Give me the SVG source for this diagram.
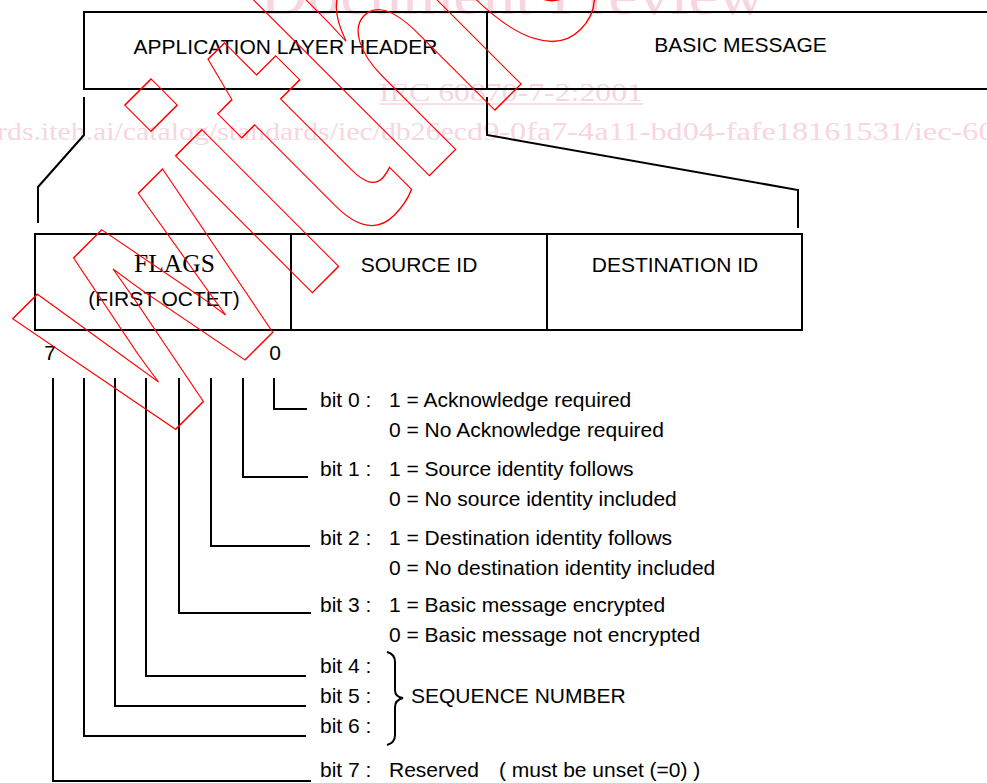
<svg xmlns="http://www.w3.org/2000/svg" width="987" height="783" viewBox="0 0 987 783">
<style>
.ln{fill:none;stroke:#000;stroke-width:2}
.t{font-family:"Liberation Sans",Arial,sans-serif;font-size:21px;fill:#000}
.c{text-anchor:middle}
.wm{font-family:"Liberation Serif","Times New Roman",serif;fill:#f7d6df}
.wd{font-family:"Liberation Sans",Arial,sans-serif;font-weight:bold;font-size:366px;fill:none;stroke:#ff0000;stroke-width:1.3}
</style>
<rect width="987" height="783" fill="#fff"/>
<g id="watermark-text">
<text class="wm" x="260" y="14" font-size="56" textLength="505" lengthAdjust="spacingAndGlyphs">Document Preview</text>
<text class="wm" x="379" y="101" font-size="26" textLength="264" lengthAdjust="spacingAndGlyphs">IEC 60870-7-2:2001</text>
<line x1="379" y1="104" x2="643" y2="104" stroke="#f7d6df" stroke-width="1.5"/>
<text class="wm" x="-79" y="140" font-size="26" textLength="546" lengthAdjust="spacingAndGlyphs">standards.iteh.ai/catalog/standards/iec/db26ec</text>
<text class="wm" x="467" y="140" font-size="26" textLength="705" lengthAdjust="spacingAndGlyphs">d9-0fa7-4a11-bd04-fafe18161531/iec-60870-7-2-2001</text>
</g>
<g id="header-row">
<rect class="ln" x="84" y="12" width="1000" height="77"/>
<line class="ln" x1="487" y1="12" x2="487" y2="89"/>
<text class="t c" x="285.5" y="54">APPLICATION LAYER HEADER</text>
<text class="t c" x="740.5" y="52">BASIC MESSAGE</text>
</g>
<g id="expansion">
<polyline class="ln" points="84,97 84,135 38,187 38,223"/>
<polyline class="ln" points="487,97 487,135 798,190 798,228"/>
</g>
<g id="flags">
<rect class="ln" x="35" y="234" width="256" height="96"/>
<text x="174.5" y="272" font-family="'Liberation Serif','Times New Roman',serif" font-size="25.5" text-anchor="middle">FLAGS</text>
<text class="t c" x="164" y="306">(FIRST OCTET)</text>
</g>
<g id="source-id">
<rect class="ln" x="291" y="234" width="256" height="96"/>
<text class="t c" x="419" y="272">SOURCE ID</text>
</g>
<g id="destination-id">
<rect class="ln" x="547" y="234" width="255" height="96"/>
<text class="t c" x="675" y="272">DESTINATION ID</text>
</g>
<g id="bit-numbers">
<text class="t c" x="50" y="360">7</text>
<text class="t c" x="275" y="360">0</text>
</g>
<g id="connectors">
<path class="ln" d="M274,378V409H307"/>
<path class="ln" d="M243,378V477H308"/>
<path class="ln" d="M211,378V546H310"/>
<path class="ln" d="M179,378V613H311"/>
<path class="ln" d="M146,378V676H306"/>
<path class="ln" d="M115,378V706H306"/>
<path class="ln" d="M84,378V736H306"/>
<path class="ln" d="M53,378V781H311"/>
<path class="ln" d="M387,652Q395,654 395,662V690Q395,697 403,698Q395,700 395,707V735Q395,743 387,745"/>
</g>
<g id="bit0"><text class="t" x="320" y="407">bit 0 :</text><text class="t" x="389" y="407">1 = Acknowledge required</text><text class="t" x="389" y="437">0 = No Acknowledge required</text></g>
<g id="bit1"><text class="t" x="320" y="476">bit 1 :</text><text class="t" x="389" y="476">1 = Source identity follows</text><text class="t" x="389" y="506">0 = No source identity included</text></g>
<g id="bit2"><text class="t" x="320" y="545">bit 2 :</text><text class="t" x="389" y="545">1 = Destination identity follows</text><text class="t" x="389" y="575">0 = No destination identity included</text></g>
<g id="bit3"><text class="t" x="320" y="612">bit 3 :</text><text class="t" x="389" y="612">1 = Basic message encrypted</text><text class="t" x="389" y="642">0 = Basic message not encrypted</text></g>
<g id="bit4-6"><text class="t" x="320" y="673">bit 4 :</text><text class="t" x="320" y="703">bit 5 :</text><text class="t" x="320" y="733">bit 6 :</text><text class="t" x="411" y="703">SEQUENCE NUMBER</text></g>
<g id="bit7"><text class="t" x="320" y="777">bit 7 :</text><text class="t" x="389" y="777">Reserved</text><text class="t" x="499" y="777">( must be unset (=0) )</text></g>
<g id="watermark-stamp">
<text class="wd" transform="translate(150,455) rotate(-45) scale(0.74,1)" vector-effect="non-scaling-stroke">withdrawn</text>
</g>
</svg>
